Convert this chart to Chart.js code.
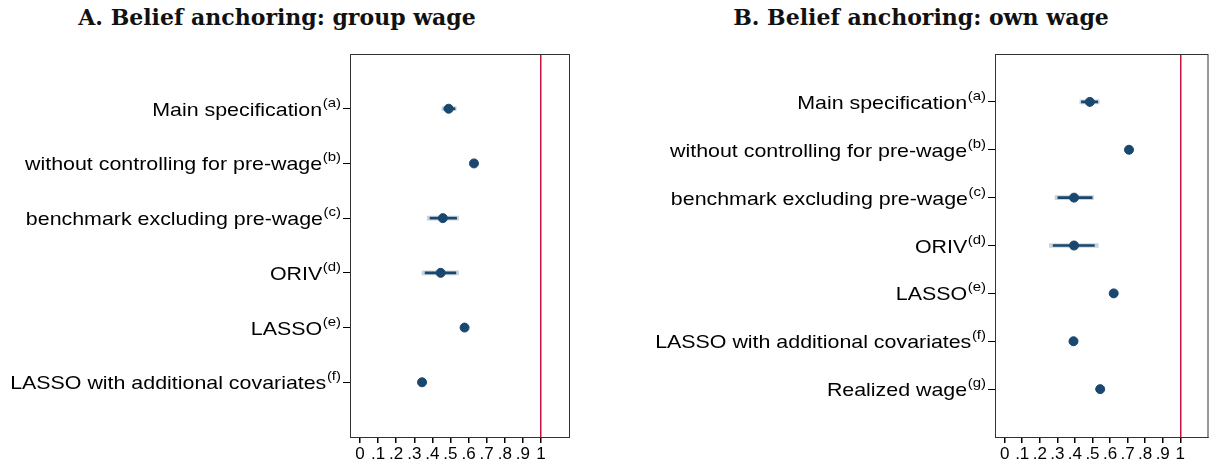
<!DOCTYPE html>
<html>
<head>
<meta charset="utf-8">
<script src="https://cdn.jsdelivr.net/npm/chart.js@4.4.1/dist/chart.umd.min.js"></script>
<style>
  body { margin: 0; background: #fff; }
  #wrap { position: relative; width: 1213px; height: 466px; overflow: hidden; }
  .title { position: absolute; top: 4px; font: bold 22px "DejaVu Serif", serif; color: #111; text-align: center; white-space: nowrap; }
  .panel { position: absolute; top: 0; height: 466px; }
</style>
</head>
<body>
<div id="wrap">
  <div class="title" style="left:0;width:554px">A. Belief anchoring: group wage</div>
  <div class="title" style="left:621px;width:600px">B. Belief anchoring: own wage</div>
  <div class="panel" style="left:0;width:600px"><canvas id="chartA"></canvas></div>
  <div class="panel" style="left:610px;width:603px"><canvas id="chartB"></canvas></div>
</div>
<script>
// panel A: group wage
const labelsA = ['Main specification', 'without controlling for pre-wage', 'benchmark excluding pre-wage', 'ORIV', 'LASSO', 'LASSO with additional covariates'];
const supsA = ['(a)', '(b)', '(c)', '(d)', '(e)', '(f)'];
const estA = [0.49, 0.63, 0.458, 0.446, 0.578, 0.343];
const ci95A = [[0.453, 0.532], null, [0.372, 0.545], [0.343, 0.545], null, null];
const ci90A = [[0.464, 0.525], null, [0.387, 0.534], [0.36, 0.53], null, null];

// panel B: own wage
const labelsB = ['Main specification', 'without controlling for pre-wage', 'benchmark excluding pre-wage', 'ORIV', 'LASSO', 'LASSO with additional covariates', 'Realized wage'];
const supsB = ['(a)', '(b)', '(c)', '(d)', '(e)', '(f)', '(g)'];
const estB = [0.485, 0.708, 0.395, 0.395, 0.621, 0.392, 0.544];
const ci95B = [[0.428, 0.539], null, [0.287, 0.506], [0.255, 0.533], null, null, null];
const ci90B = [[0.437, 0.53], null, [0.303, 0.498], [0.276, 0.511], null, null, null];

// x axis ticks
const xTicks = [0, 0.1, 0.2, 0.3, 0.4, 0.5, 0.6, 0.7, 0.8, 0.9, 1];
const xTickLabels = ['0', '.1', '.2', '.3', '.4', '.5', '.6', '.7', '.8', '.9', '1'];

const NAVY = 'rgb(26,71,111)';
const LIGHT = 'rgba(26,71,111,0.24)';
const RED = '#c8143c';

// draws the row labels (with superscripts) and the box around the plot
const rowLabels = {
  id: 'rowLabels',
  afterDraw(chart, args, opts) {
    const { ctx, chartArea, scales } = chart;
    const y = scales.y;
    ctx.save();
    ctx.strokeStyle = '#333';
    ctx.lineWidth = 1;
    ctx.strokeRect(chartArea.left + 0.5, chartArea.top + 0.5, chartArea.right - chartArea.left, chartArea.bottom - chartArea.top);
    ctx.fillStyle = '#000';
    ctx.textAlign = 'right';
    ctx.textBaseline = 'alphabetic';
    opts.labels.forEach((lab, i) => {
      const py = y.getPixelForValue(i + 1);
      ctx.save();
      ctx.translate(chartArea.left - 9, py);
      ctx.scale(1.15, 1);
      ctx.font = '13px "Liberation Sans", Arial, sans-serif';
      const supW = ctx.measureText(opts.sups[i]).width;
      ctx.fillText(opts.sups[i], 0, -2);
      ctx.font = '18.6px "Liberation Sans", Arial, sans-serif';
      ctx.fillText(lab, -supW - 0.5, 7);
      ctx.restore();
    });
    ctx.restore();
  }
};

function pad(arr) {
  return [null, ...arr, null];
}

function makeChart(id, labels, sups, est, ci95, ci90, yWidth, padRight) {
  const cats = ['', ...labels, ''];
  const last = cats.length - 1;
  const ctx = document.getElementById(id).getContext('2d');
  return new Chart(ctx, {
    type: 'bar',
    data: {
      labels: cats,
      datasets: [{
        label: 'ci95',
        indexAxis: 'y',
        data: pad(ci95),
        backgroundColor: LIGHT,
        barThickness: 4,
        grouped: false,
        order: 3
      }, {
        label: 'ci90',
        indexAxis: 'y',
        data: pad(ci90),
        backgroundColor: NAVY,
        barThickness: 2,
        grouped: false,
        order: 2
      }, {
        type: 'line',
        label: 'estimate',
        indexAxis: 'y',
        data: pad(est),
        showLine: false,
        pointRadius: 4.5,
        pointBorderWidth: 1,
        pointBackgroundColor: NAVY,
        pointBorderColor: NAVY,
        order: 1
      }]
    },
    options: {
      indexAxis: 'y',
      responsive: true,
      maintainAspectRatio: false,
      animation: false,
      layout: { padding: { top: 54, right: padRight, bottom: 0, left: 0 } },
      plugins: {
        legend: { display: false },
        tooltip: { enabled: false },
        rowLabels: { labels: labels, sups: sups }
      },
      scales: {
        x: {
          type: 'linear',
          min: -0.055,
          max: 1.155,
          afterBuildTicks: scale => { scale.ticks = xTicks.map(v => ({ value: v })); },
          afterFit: scale => { scale.height = 29; },
          ticks: {
            autoSkip: false,
            maxRotation: 0,
            padding: 1,
            color: '#000',
            font: { family: '"Liberation Sans", Arial, sans-serif', size: 17 },
            callback: (v, i) => xTickLabels[i]
          },
          grid: {
            color: c => (c.tick && c.tick.value === 1 ? RED : 'rgba(0,0,0,0)'),
            lineWidth: 1.5,
            tickColor: '#000',
            tickLength: 6
          },
          border: { color: '#000', width: 1 }
        },
        y: {
          type: 'category',
          offset: false,
          afterFit: scale => { scale.width = yWidth; },
          ticks: { display: false, autoSkip: false },
          grid: {
            offset: false,
            drawOnChartArea: false,
            tickLength: 7,
            tickColor: c => (c.index === 0 || c.index === last ? 'rgba(0,0,0,0)' : '#000')
          },
          border: { color: '#000', width: 1 }
        }
      }
    },
    plugins: [rowLabels]
  });
}

makeChart('chartA', labelsA, supsA, estA, ci95A, ci90A, 350, 31);
makeChart('chartB', labelsB, supsB, estB, ci95B, ci90B, 385, 1);
</script>
</body>
</html>
